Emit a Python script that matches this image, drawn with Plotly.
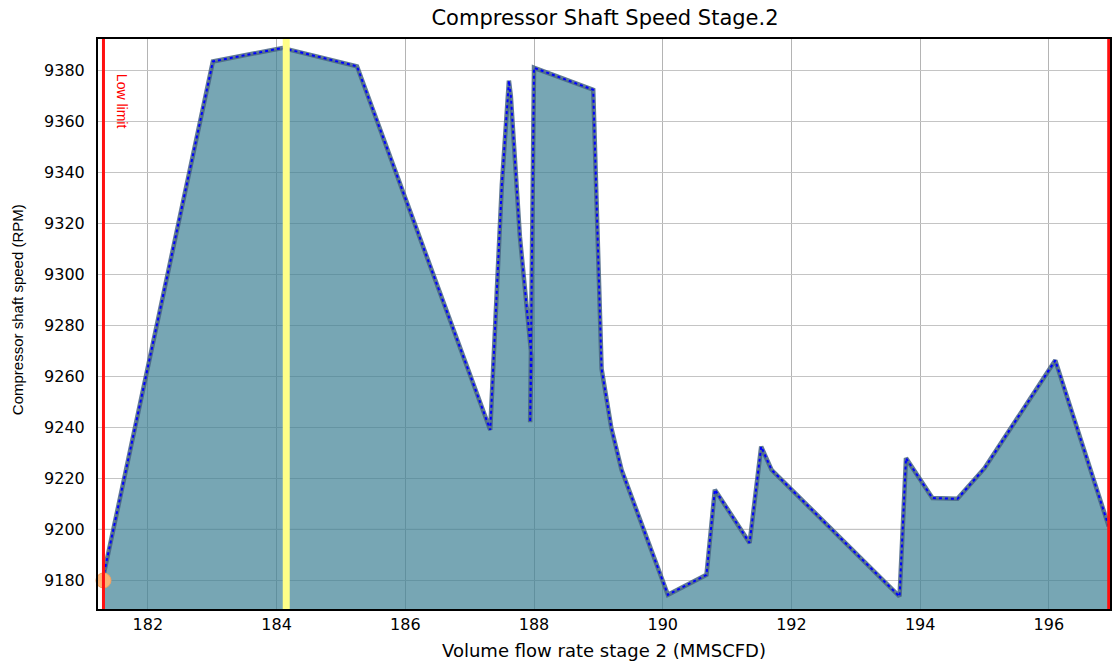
import plotly.graph_objects as go

# Data
flow = [181.32, 183.01, 184.09, 185.25, 187.32, 187.50, 187.61, 187.64, 187.78,
        187.92, 187.96, 187.94, 188.00, 188.92, 189.05, 189.20, 189.36, 190.08,
        190.68, 190.81, 191.35, 191.53, 191.69, 193.68, 193.78, 194.19, 194.58,
        195.00, 196.10, 196.93]
speed = [9183, 9383.5, 9388.8, 9381.6, 9239, 9335, 9376, 9370, 9315,
         9276, 9268, 9242, 9381, 9372.4, 9263, 9240, 9223.4, 9174.4,
         9182.2, 9215.6, 9194.7, 9232.5, 9223.4, 9173.7, 9228, 9212.3, 9212,
         9224, 9266.3, 9201.2]

x_ticks = [182, 184, 186, 188, 190, 192, 194, 196]
y_ticks = [9180, 9200, 9220, 9240, 9260, 9280, 9300, 9320, 9340, 9360, 9380]

low_limit = 181.31
high_limit = 196.93
current_flow = 184.15
op_point_x = [181.31]
op_point_y = [9180]
ref_speed = 9200

x_range = [181.225, 196.95]
y_range = [9168.8, 9392.3]

fig = go.Figure()

# filled area with thick gray-blue outline
fig.add_trace(go.Scatter(
    x=flow, y=speed, mode="lines", fill="tozeroy",
    fillcolor="rgba(61,128,148,0.7)",
    line=dict(color="rgba(70,100,130,0.85)", width=4.5),
    hoverinfo="skip", showlegend=False))
# blue dotted overlay
fig.add_trace(go.Scatter(
    x=flow, y=speed, mode="lines",
    line=dict(color="#0000ff", width=2, dash="dot"),
    showlegend=False))
# operating point marker
fig.add_trace(go.Scatter(
    x=op_point_x, y=op_point_y, mode="markers",
    marker=dict(size=15, color="rgba(255,180,115,0.95)",
                line=dict(color="rgba(245,160,95,1)", width=1)),
    showlegend=False, cliponaxis=False))

shapes = [
    dict(type="line", xref="x", yref="y", x0=x_range[0], x1=x_range[1],
         y0=ref_speed, y1=ref_speed, line=dict(color="rgba(50,50,50,0.85)", width=1),
         layer="below"),
    dict(type="line", xref="x", yref="paper", x0=current_flow, x1=current_flow,
         y0=0, y1=1, line=dict(color="#ffff88", width=7)),
    dict(type="line", xref="x", yref="paper", x0=low_limit, x1=low_limit,
         y0=0, y1=1, line=dict(color="#ff1010", width=3)),
    dict(type="line", xref="x", yref="paper", x0=high_limit, x1=high_limit,
         y0=0, y1=1, line=dict(color="#ff1010", width=3)),
]

ml, mr, mt, mb = 98, 2, 39, 54
W, H = 1114, 663
pw, ph = W - ml - mr, H - mt - mb

annotations = [
    dict(text="Low limit", x=181.60, y=9368, xref="x", yref="y",
         textangle=90, showarrow=False, xanchor="center", yanchor="middle",
         font=dict(family="Liberation Sans Narrow, Arial Narrow, Liberation Sans", size=14, color="#ff0000")),
    dict(text="Compressor shaft speed (RPM)",
         x=(18 - ml) / pw, y=1 - (310 - mt) / ph, xref="paper", yref="paper",
         showarrow=False, textangle=-90, xanchor="center", yanchor="middle",
         font=dict(family="Liberation Sans Narrow, Arial Narrow, Liberation Sans", size=15, color="#000000")),
]

fig.update_layout(
    width=W, height=H,
    margin=dict(l=ml, r=mr, t=mt, b=mb),
    paper_bgcolor="white", plot_bgcolor="white",
    title=dict(text="Compressor Shaft Speed Stage.2", x=605 / W, xanchor="center",
               y=1 - 18 / H, yanchor="middle",
               font=dict(family="DejaVu Sans", size=21, color="#000000")),
    font=dict(family="DejaVu Sans", size=16, color="#000000"),
    xaxis=dict(range=x_range, tickvals=x_ticks, ticktext=[str(t) for t in x_ticks],
               showgrid=True, gridcolor="#b4b4b4", gridwidth=1,
               showline=True, mirror=True, linecolor="#000000", linewidth=2,
               ticks="", zeroline=False, tickfont=dict(size=16),
               title=dict(text="Volume flow rate stage 2 (MMSCFD)",
                          font=dict(family="DejaVu Sans", size=18), standoff=11)),
    yaxis=dict(range=y_range, tickvals=y_ticks, ticktext=[str(t) for t in y_ticks],
               showgrid=True, gridcolor="#c4c4c4", gridwidth=1,
               showline=True, mirror=True, linecolor="#000000", linewidth=2,
               ticks="", zeroline=False, tickfont=dict(size=16), ticklabelstandoff=8),
    shapes=shapes, annotations=annotations,
)

fig.write_html("out.html")
